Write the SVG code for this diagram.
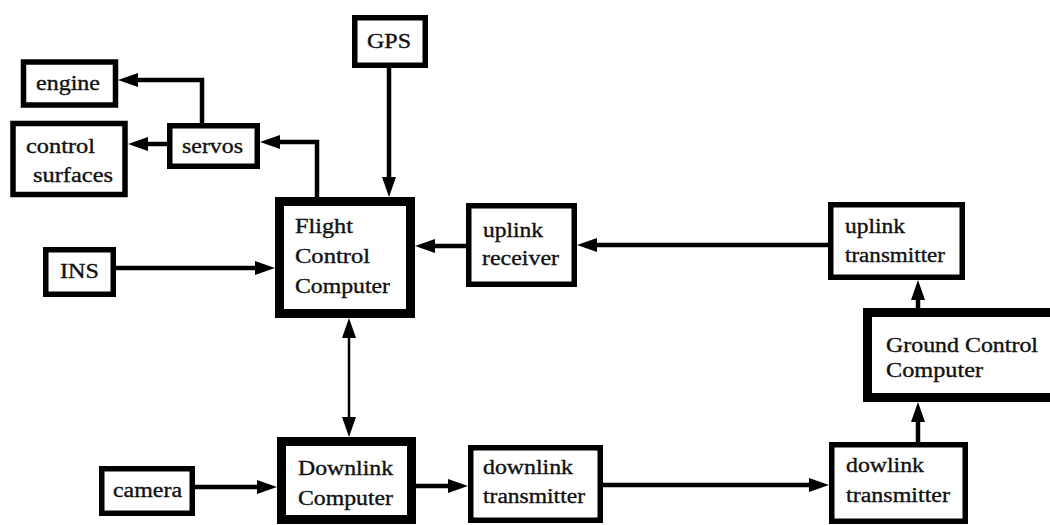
<svg xmlns="http://www.w3.org/2000/svg" width="1050" height="525" viewBox="0 0 1050 525">
<defs>
<style>
.box{fill:#fff;stroke:#000;stroke-width:5.5}
.thick{fill:#fff;stroke:#000;stroke-width:9}
.lbl{font-family:"Liberation Serif","Times New Roman",serif;font-size:20.5px;fill:#111;stroke:#111;stroke-width:0.35}
.con{fill:none;stroke:#000;stroke-width:4.5;marker-end:url(#ah)}
.bi{fill:none;stroke:#000;stroke-width:2.5;marker-end:url(#ah);marker-start:url(#ah)}
</style>
<marker id="ah" viewBox="0 0 20 14" refX="12" refY="7" markerWidth="20" markerHeight="14" markerUnits="userSpaceOnUse" orient="auto-start-reverse">
<path d="M0,0 L20,7 L0,14 z" fill="#000"/>
</marker>
</defs>
<rect width="1050" height="525" fill="#fff"/>
<g id="connectors">
<path class="con" d="M202 123 V80 H126"/>
<path class="con" d="M167 144 H136"/>
<path class="con" d="M317 197 V142 H268"/>
<path class="con" d="M389 68 V189"/>
<path class="con" d="M116 268 H267"/>
<path class="con" d="M466 246 H423"/>
<path class="con" d="M828 245 H585"/>
<path class="bi" d="M349 326 V429"/>
<path class="con" d="M195 487 H269"/>
<path class="con" d="M416 486 H460"/>
<path class="con" d="M603 485 H821"/>
<path class="con" d="M918 442 V410"/>
<path class="con" d="M918 308 V288"/>
</g>
<g id="engine">
<rect class="box" x="23.5" y="62" width="92" height="43"/>
<text class="lbl" x="36" y="90" textLength="64" lengthAdjust="spacingAndGlyphs">engine</text>
</g>
<g id="control-surfaces">
<rect class="box" x="13" y="123.5" width="112" height="71"/>
<text class="lbl" x="26" y="153" textLength="69" lengthAdjust="spacingAndGlyphs">control</text>
<text class="lbl" x="33" y="182" textLength="80" lengthAdjust="spacingAndGlyphs">surfaces</text>
</g>
<g id="servos">
<rect class="box" x="169.75" y="125.75" width="87.5" height="40.5"/>
<text class="lbl" x="182" y="153" textLength="61" lengthAdjust="spacingAndGlyphs">servos</text>
</g>
<g id="gps">
<rect class="box" x="354.75" y="17.75" width="70.5" height="47.5"/>
<text class="lbl" x="367" y="48" textLength="44" lengthAdjust="spacingAndGlyphs">GPS</text>
</g>
<g id="ins">
<rect class="box" x="45.75" y="249.75" width="67.5" height="44.5"/>
<text class="lbl" x="60" y="278" textLength="39" lengthAdjust="spacingAndGlyphs">INS</text>
</g>
<g id="fcc">
<rect class="thick" x="279.5" y="201.5" width="131" height="112"/>
<text class="lbl" x="295" y="233" textLength="58" lengthAdjust="spacingAndGlyphs">Flight</text>
<text class="lbl" x="295" y="263" textLength="75" lengthAdjust="spacingAndGlyphs">Control</text>
<text class="lbl" x="295" y="293" textLength="95" lengthAdjust="spacingAndGlyphs">Computer</text>
</g>
<g id="uplink-receiver">
<rect class="box" x="468.75" y="205.75" width="105.5" height="78.5"/>
<text class="lbl" x="483" y="237" textLength="60" lengthAdjust="spacingAndGlyphs">uplink</text>
<text class="lbl" x="482" y="265" textLength="77" lengthAdjust="spacingAndGlyphs">receiver</text>
</g>
<g id="uplink-transmitter">
<rect class="box" x="830.75" y="204.75" width="131.5" height="72.5"/>
<text class="lbl" x="845" y="233" textLength="60" lengthAdjust="spacingAndGlyphs">uplink</text>
<text class="lbl" x="845" y="262" textLength="100" lengthAdjust="spacingAndGlyphs">transmitter</text>
</g>
<g id="ground-control">
<rect class="thick" x="867.5" y="312.5" width="200" height="85"/>
<text class="lbl" x="886" y="352" textLength="152" lengthAdjust="spacingAndGlyphs">Ground Control</text>
<text class="lbl" x="886" y="377" textLength="97" lengthAdjust="spacingAndGlyphs">Computer</text>
</g>
<g id="camera">
<rect class="box" x="101.75" y="468.75" width="90.5" height="44.5"/>
<text class="lbl" x="113" y="497" textLength="69" lengthAdjust="spacingAndGlyphs">camera</text>
</g>
<g id="downlink-computer">
<rect class="thick" x="281.5" y="441.5" width="130" height="78"/>
<text class="lbl" x="298" y="475" textLength="95" lengthAdjust="spacingAndGlyphs">Downlink</text>
<text class="lbl" x="298" y="505" textLength="95" lengthAdjust="spacingAndGlyphs">Computer</text>
</g>
<g id="downlink-transmitter">
<rect class="box" x="470.75" y="447.75" width="129.5" height="72.5"/>
<text class="lbl" x="483" y="474" textLength="90" lengthAdjust="spacingAndGlyphs">downlink</text>
<text class="lbl" x="483" y="503" textLength="102" lengthAdjust="spacingAndGlyphs">transmitter</text>
</g>
<g id="dowlink-transmitter">
<rect class="box" x="831.75" y="444.75" width="133.5" height="76.5"/>
<text class="lbl" x="846" y="472" textLength="78" lengthAdjust="spacingAndGlyphs">dowlink</text>
<text class="lbl" x="846" y="502" textLength="104" lengthAdjust="spacingAndGlyphs">transmitter</text>
</g>
</svg>
